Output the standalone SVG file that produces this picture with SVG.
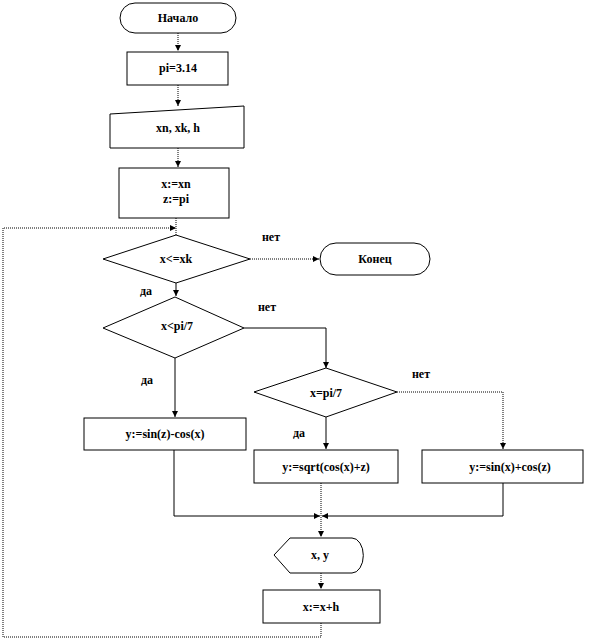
<svg xmlns="http://www.w3.org/2000/svg" width="601" height="639" viewBox="0 0 601 639">
<defs>
<marker id="ah" markerWidth="6" markerHeight="6" refX="6" refY="3" orient="auto" markerUnits="userSpaceOnUse">
<path d="M0,0 L6,3 L0,6 Z" fill="#000"/>
</marker>
<style>
.s{fill:#fff;stroke:#000;stroke-width:1}
.t{font-family:"Liberation Serif","Times New Roman",serif;font-size:12px;font-weight:bold;text-anchor:middle;fill:#000}
.c{fill:none;stroke:#000;stroke-width:1}
.d{stroke-dasharray:1 1}
</style>
</defs>
<rect width="601" height="639" fill="#fff"/>
<g id="connectors">
<path class="c d" d="M178,33 V51" marker-end="url(#ah)"/>
<path class="c d" d="M178,85 V106" marker-end="url(#ah)"/>
<path class="c d" d="M178,148 V167" marker-end="url(#ah)"/>
<path class="c d" d="M176,218 V235"/>
<path class="c d" d="M250,259 H319" marker-end="url(#ah)"/>
<path class="c" d="M176,283 V296" marker-end="url(#ah)"/>
<path class="c" d="M244,328 H326 V368" marker-end="url(#ah)"/>
<path class="c" d="M175,358 V417" marker-end="url(#ah)"/>
<path class="c d" d="M397,392 H503 V449" marker-end="url(#ah)"/>
<path class="c" d="M326,417 V449" marker-end="url(#ah)"/>
<path class="c" d="M174,450 V516 H320" marker-end="url(#ah)"/>
<path class="c" d="M503,483 V516 H322" marker-end="url(#ah)"/>
<path class="c d" d="M321,483 V537" marker-end="url(#ah)"/>
<path class="c d" d="M321,573 V589" marker-end="url(#ah)"/>
<path class="c d" d="M321,623 V637 H3 V228 H176" marker-end="url(#ah)"/>
</g>
<g id="start">
<rect class="s" x="120" y="3" width="116" height="30" rx="15"/>
<text class="t" x="178" y="22">Начало</text>
</g>
<g id="pi">
<rect class="s" x="127" y="52" width="101" height="33"/>
<text class="t" x="178" y="72">pi=3.14</text>
</g>
<g id="input">
<path class="s" d="M110,114 L244,106 V148 H110 Z"/>
<text class="t" x="178" y="132">xn, xk, h</text>
</g>
<g id="init">
<rect class="s" x="119" y="168" width="110" height="50"/>
<text class="t" x="176" y="188">x:=xn</text>
<text class="t" x="176" y="203">z:=pi</text>
</g>
<g id="cond1">
<path class="s" d="M103,259 L176,235 L250,259 L176,283 Z"/>
<text class="t" x="176" y="263">x&lt;=xk</text>
</g>
<g id="end">
<rect class="s" x="320" y="243" width="110" height="32" rx="16"/>
<text class="t" x="375" y="263">Конец</text>
</g>
<g id="cond2">
<path class="s" d="M103,328 L175,297 L244,328 L175,358 Z"/>
<text class="t" x="177" y="330">x&lt;pi/7</text>
</g>
<g id="cond3">
<path class="s" d="M254,392 L326,368 L397,392 L326,417 Z"/>
<text class="t" x="326" y="397">x=pi/7</text>
</g>
<g id="box1">
<rect class="s" x="84" y="418" width="162" height="32"/>
<text class="t" x="165" y="438">y:=sin(z)-cos(x)</text>
</g>
<g id="box2">
<rect class="s" x="254" y="450" width="144" height="33"/>
<text class="t" x="326" y="471">y:=sqrt(cos(x)+z)</text>
</g>
<g id="box3">
<rect class="s" x="422" y="450" width="161" height="33"/>
<text class="t" x="510" y="471">y:=sin(x)+cos(z)</text>
</g>
<g id="output">
<path class="s" d="M274,555 L290,538 H352 A11,17 0 0 1 352,573 H290 Z"/>
<text class="t" x="320" y="559">x, y</text>
</g>
<g id="step">
<rect class="s" x="263" y="590" width="117" height="33"/>
<text class="t" x="321" y="611">x:=x+h</text>
</g>
<g id="labels">
<text class="t" x="271" y="241">нет</text>
<text class="t" x="146" y="295">да</text>
<text class="t" x="267" y="311">нет</text>
<text class="t" x="147" y="384">да</text>
<text class="t" x="421" y="378">нет</text>
<text class="t" x="299" y="437">да</text>
</g>
</svg>
